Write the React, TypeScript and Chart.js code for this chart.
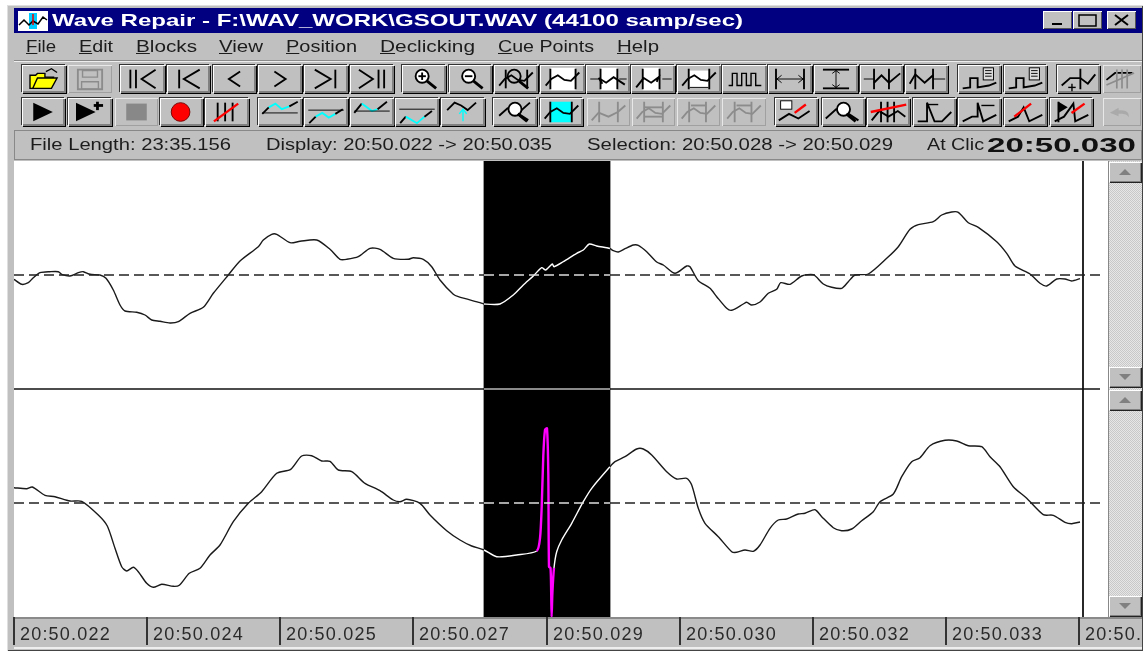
import React, { useEffect, useRef } from "react";
import { Chart, registerables } from "chart.js";

Chart.register(...registerables);

// ---- data: display columns and channel levels (dashed line = 0) ----
const topColumns = [0,7.7,14.3,19,26,36,44.3,47.7,56,64.3,69.3,76,86,92,99.3,106,111,122.7,131,137.7,146,156,164.3,176,189.3,199.3,214.3,226,244.3,249.3,257.7,262.7,276,286,302.7,316,326,332.7,344.3,356,366,379.3,394.3,399.3,409.3,417.7,426,439.3,444.3,466,470,486,499.3,509.3,519.3,527.7,531.7,538.3,540,549.3,562.7,569.3,575.3,582.7,592.7,596,599.3,604.3,611,619.3,624.3,632.7,642.7,649.3,661,672.7,676,684.3,696,702.7,712.7,717.7,729.3,732.7,737.7,746,754.3,762.7,766.7,776,787.7,799.3,809.3,817.7,827.7,834.3,841,854.3,872.7,884.3,896,904.3,919.3,927.7,937.7,944.3,954.3,964.3,982.7,992.7,1001,1016,1026,1032.7,1042.7,1051,1057.7,1066];
const topLevels = [-4.3,-9.3,-7.7,-3,2.3,3.3,3.3,0.7,-1,2.3,3.3,0.7,0,-3.3,-15,-30,-36,-37.3,-40,-45,-46.3,-48,-46.7,-38.3,-32.3,-18.3,0,14,28.3,35,40.7,40.7,32.3,33.7,35,25.7,15.7,15.7,18.3,26.7,25.7,16.7,15.7,17.3,15.7,8.3,-5,-19.3,-21.7,-27.7,-29,-29,-20,-10,-1,7.3,5,11,8.3,13.3,21.7,25,31,29,27.3,26.5,24.3,23,26.3,30,29.7,23.3,13,10,1.7,9,8.3,-5.7,-13.3,-21.7,-33.3,-35.3,-29,-27.3,-30,-27,-18.3,-14.3,-7.7,-9.3,-1,0.3,-9,-12.3,-13.3,-6.7,0,1,16.7,28.3,45.7,50.3,53.3,60,63,62.7,52.3,47.7,33.3,21.7,9,1,-8.3,-11,-4,-4,-6,-3.7];
const bottomColumns = [0,12.7,18.3,31,41,56,67.7,84.3,93.3,101,107.7,112.7,119.3,124.3,132.7,139.3,147.7,159.3,165.3,175.3,186,196,206,219.3,234.3,247.7,262.7,276.7,287.7,297.7,307.7,316,324.3,337.7,351,366,379.3,386,392.7,406,416,432.7,446,457.7,470,482.7,502.7,522.7,526,527.7,529.3,531,533,534.3,535,536.5,537.2,537.6,538.4,540,542.7,547.7,557.7,569.3,577.7,596,601,611,622.7,629.3,637.7,652.7,662.7,672.7,677.7,684.3,691,704.3,717.7,722.7,731,739.3,746,756,764.3,772.7,784.3,791,801,807.7,819.3,827.7,837.7,847.7,859.3,866,879.3,887.7,897.7,906,916,931,942.7,954.3,967.7,976,986,999.3,1012.7,1029.3,1039.3,1051,1057.7,1066];
const bottomLevels = [15.3,14.3,16,7.7,6.3,2,1.7,-12,-23,-45.3,-63.7,-68,-64.3,-68.7,-80.3,-84.3,-81.3,-83.3,-82.3,-70.3,-65.3,-52,-42,-18.7,-0.3,11.3,29.7,33.7,47,47.3,42,41.7,33,31.3,19.7,12.3,3,1.3,3.7,-0.3,-12,-27.7,-37,-43,-47,-53.7,-52,-48,-35.3,-3.7,47.3,73,74.7,29.7,-63.7,-65,-90,-114,-90,-65,-48.7,-37,-20.3,1.3,14.7,36.3,41.3,46.3,54,54,48,31.3,24,24.7,18,-5.3,-20.3,-33.7,-48.7,-49.3,-47,-48.3,-42,-25.3,-17,-16,-11,-10.3,-6.7,-13.7,-24.7,-27.7,-26,-17.7,-8.7,1.3,9,26.3,41.3,45.3,57.3,62.7,62,57.3,56.3,46.3,36.3,16.3,4.7,-11.7,-12.3,-19.3,-20.7,-19];
const zeroColumns = [0, 470, 596, 1086];
const zeroLevels = [0, 0, 0, 0];
const separatorColumns = [0, 470, 596, 1086];
const separatorLevels = [-114, -114, -114, -114];
const cursorColumns = [1069, 1069];
const cursorLevels = [-342, 114];
const selectionStart = 470;
const selectionEnd = 596;
const clickStart = 522.7;
const clickEnd = 540;
const tickColumns = [0, 133, 266, 399, 533, 666, 799, 932, 1065];
const tickLabels = ["20:50.022","20:50.024","20:50.025","20:50.027","20:50.029","20:50.030","20:50.032","20:50.033","20:50."];

const xy = (xs: number[], ys: number[]) => xs.map((x, i) => ({ x, y: ys[i] }));
const INK = "#1a1a1a";

// ---- window chrome ----
const measure = document.createElement("canvas").getContext("2d")!;
function Txt({ x, y, w, text, size = 16, bold = false, color = "#1c1c1c", u = -1 }: any) {
  const font = `${bold ? "bold " : ""}${size}px "Liberation Sans"`;
  measure.font = font;
  const k = w / measure.measureText(text).width;
  return (
    <div style={{ position: "absolute", left: x, top: y - size, font, lineHeight: `${size * 2}px`, height: size * 2, whiteSpace: "pre", color, transform: `scaleX(${k})`, transformOrigin: "left center" }}>
      {u >= 0 ? <>{text.slice(0, u)}<u>{text[u]}</u>{text.slice(u + 1)}</> : text}
    </div>
  );
}

const L = (pts: string, c = "#000", sw = 2) => `<polyline points="${pts}" fill="none" stroke="${c}" stroke-width="${sw}"/>`;
const W1 = "4,22 10,15 17,11 24,16 31,17 40,8";
const W2 = "4,24 12,14 20,19 28,13 40,21";
const vbar = (x: number, c = "#000") => L(`${x},4 ${x},26`, c);
const lens = `<circle cx="20" cy="12" r="7" fill="#fff" stroke="#000" stroke-width="2"/>` + L("25,17 35,25", "#000", 3);
const doc = `<rect x="26" y="3" width="11" height="13" fill="#ddd" stroke="#000"/>` + L("28,6 35,6", "#000", 1) + L("28,9 35,9", "#000", 1) + L("28,12 35,12", "#000", 1);
const slash = (a: string) => L(a, "#f00", 2.5);
const g = "#8c8c8c";

const iconsTop: [number, number, string, string?][] = [
  [22, 44, `<path d="M7 25V11h6l2-2h8v4h9l-5 12z" fill="#ff0" stroke="#000" stroke-width="1.5"/><path d="M10 25l5-11h21l-6 11z" fill="#ff0" stroke="#000" stroke-width="1.5"/>` + L("24,7 30,4 36,8", "#000", 1.5)],
  [68, 44, `<path d="M9 5h26v21H9z" fill="none" stroke="${g}" stroke-width="2"/><path d="M14 6h16v7H14zM13 18h18v8H13z" fill="none" stroke="${g}" stroke-width="1.5"/>`, "off"],
  [120, 45, L("9,5 9,25") + L("15,5 15,25") + L("36,5 21,15 36,25")],
  [167, 43, L("12,5 12,25") + L("34,5 17,15 34,25")],
  [213, 43, L("28,7 16,15 28,23")],
  [258, 44, L("16,7 28,15 16,23")],
  [304, 44, L("10,5 27,15 10,25") + L("32,5 32,25")],
  [350, 44, L("8,5 23,15 8,25") + L("29,5 29,25") + L("35,5 35,25")],
  [402, 44, lens + L("16,12 24,12") + L("20,8 20,16")],
  [449, 43, lens + L("16,12 24,12")],
  [494, 44, L(W1) + L("11,5 11,25") + L("34,5 34,25") + lens.replace('fill="#fff"', 'fill="none"')],
  [540, 45, `<rect x="9" y="3" width="27" height="24" fill="#fff"/>` + L(W1) + vbar(9) + vbar(36), "on"],
  [586, 44, `<rect x="14" y="3" width="18" height="24" fill="#fff"/>` + L(W2.replace("4,24", "16,20")) + vbar(14) + vbar(32) + L("3,15 12,15", "#000", 1) + L("34,15 42,15", "#000", 1)],
  [631, 44, `<rect x="11" y="3" width="18" height="24" fill="#fff"/>` + L(W2.replace("40,21", "26,18")) + vbar(11) + vbar(29) + L("32,15 42,15", "#000", 1)],
  [677, 44, `<rect x="11" y="6" width="22" height="18" fill="#fff"/>` + L(W1) + vbar(11) + vbar(33) + L("12,24 32,24", "#000", 1)],
  [722, 45, L("5,22 9,22 9,9 14,9 14,22 19,22 19,9 24,9 24,22 29,22 29,9 34,9 34,22 40,22", "#000", 1.5)],
  [768, 44, vbar(7) + vbar(37) + L("7,15 37,15", "#000", 1) + L("13,11 8,15 13,19", "#000", 1) + L("31,11 36,15 31,19", "#000", 1)],
  [814, 44, L("8,5 36,5") + L("8,25 36,25") + L("22,5 22,25", "#000", 1) + L("18,9 22,6 26,9", "#000", 1) + L("18,21 22,24 26,21", "#000", 1)],
  [860, 43, L("3,15 14,15", "#000", 1) + vbar(14) + vbar(30) + L("14,19 22,11 30,19 42,9")],
  [905, 43, vbar(10) + vbar(29) + L("4,20 10,10 20,19 29,11") + L("30,15 42,15", "#000", 1)],
  [958, 43, L("4,25 12,24 12,14 20,14 20,24 32,22 40,19") + doc],
  [1004, 43, L("4,25 12,24 12,14 20,14 20,24 32,22 40,19") + doc],
  [1057, 43, L("4,22 13,14 24,14 32,20 40,10") + vbar(24) + L("15,20 15,28", "#000", 1.5) + L("11,24 19,24", "#000", 1.5)],
  [1103, 38, L("4,16 14,8 34,8") + L("4,22 36,8", g) + L("16,4 16,26", g) + L("22,4 22,26", g) + L("28,4 28,26", g), "off"],
];

const thick = (a: string) => L(a, "#0ff", 2);
const iconsBottom: [number, number, string, string?][] = [
  [22, 43, `<path d="M11 5L32 15L11 25z"/>`],
  [68, 44, `<path d="M7 5L28 15L7 25z"/>` + L("30,4 30,13", "#000", 3) + L("26,8 36,8", "#000", 3)],
  [115, 43, `<rect x="11" y="6" width="22" height="18" fill="#888"/>`, "off"],
  [160, 43, `<circle cx="21" cy="15" r="10" fill="#f00" stroke="#700"/>`],
  [205, 44, L("12,5 12,25") + L("20,5 20,25") + L("28,5 28,25") + slash("8,25 34,6")],
  [258, 44, L("3,17 10,10") + thick("10,10 17,6 24,12 32,9") + L("32,9 41,4") + L("3,16 41,16", "#000", 1)],
  [304, 44, L("3,13 41,13", "#000", 1) + L("4,27 11,20") + thick("11,20 18,16 25,21 32,17") + L("32,17 40,12")],
  [350, 44, L("3,16 11,6") + thick("11,6 22,14 28,12") + L("28,12 38,4") + L("3,14 41,14", "#000", 1)],
  [395, 44, L("3,12 41,12", "#000", 1) + L("4,27 10,20") + thick("10,20 22,27 30,20") + L("30,20 38,14")],
  [441, 44, L("5,13 13,5 20,8 27,13 36,5") + L("22,13 22,25", "#0ff", 1.5) + L("18,17 22,12 26,17", "#0ff", 1.5)],
  [493, 44, L("5,19 14,11 28,14 38,5") + lens.replace('cx="20"', 'cx="22"') + L("25,17 36,24", "#000", 3)],
  [540, 43, `<rect x="10" y="4" width="23" height="22" fill="#0ff"/>` + L(W1) + vbar(10) + vbar(33), "on"],
  [587, 43, L("4,24 12,15", g) + vbar(12, g) + vbar(32, g) + L("12,16 22,20 32,15 40,8", g), "off"],
  [632, 43, vbar(12, g) + vbar(32, g) + L(W1, g) + L("12,10 32,10", g) + L("12,20 32,20", g), "off"],
  [677, 43, vbar(12, g) + vbar(30, g) + L(W1, g) + L("14,8 30,8", g), "off"],
  [722, 44, vbar(12, g) + vbar(30, g) + L(W1, g) + L("14,8 30,8", g), "off"],
  [775, 43, `<rect x="5" y="3" width="12" height="9" fill="#fff" stroke="#000"/>` + L("3,24 14,17 24,22 36,14") + slash("20,16 32,7")],
  [822, 43, L("3,22 14,12 26,16 38,24") + lens.replace('cx="20"', 'cx="22"')],
  [867, 43, L("4,24 12,14 22,20 32,14 40,20") + vbar(14) + vbar(21) + vbar(28) + slash("3,15 41,7")],
  [913, 43, L("4,25 14,25 14,5 22,25 30,25 40,15") + L("14,7 26,7", "#000", 1.5)],
  [958, 43, L("4,25 14,20 20,20 20,5 26,25 40,18") + L("24,8 38,8", "#000", 1.5)],
  [1004, 43, L("4,25 14,20 20,10 26,25 40,18") + slash("10,20 28,6")],
  [1050, 43, `<path d="M8 4L18 10L8 16z"/>` + L("8,4 8,26") + L("4,25 14,20 24,6 26,25 40,18") + slash("22,16 36,6")],
  [1103, 38, `<path d="M8 16l10-6v3c8 0 12 1 12 8c-3-4-6-4-12-4v3z" fill="#aaa"/>`, "off"],
];

function Btn({ x, y, w, h, icon, state }: any) {
  const off = state === "off";
  return (
    <div style={{ position: "absolute", left: x, top: y, width: w, height: h, background: "#c0c0c0",
      boxShadow: off ? "inset 1px 1px #e8e8e8, inset -1px -1px #a0a0a0" : "inset 1px 1px #fff, inset -2px -2px #808080, 1px 1px 0 #000, -1px -1px 0 #333" }}>
      <svg viewBox="0 0 44 30" width={w} height={h} style={{ display: "block" }} dangerouslySetInnerHTML={{ __html: icon }} />
    </div>
  );
}

function Arrow({ x, y, up }: any) {
  return (
    <div style={{ position: "absolute", left: x, top: y, width: 32, height: 20, background: "#c0c0c0", boxShadow: "inset 1px 1px #fff, inset -1px -1px #808080, 1px 1px 0 #222" }}>
      <svg viewBox="0 0 32 20" width={32} height={20} style={{ display: "block" }}>
        <path d={up ? "M10 13L16 7L22 13z" : "M10 7L22 7L16 13z"} fill="#808080" />
      </svg>
    </div>
  );
}

function Caption({ x, label }: any) {
  return (
    <div style={{ position: "absolute", left: x, top: 11, width: 29, height: 18, background: "#c0c0c0", boxShadow: "inset 1px 1px #fff, inset -1px -1px #555" }}>
      <svg viewBox="0 0 29 18" width={29} height={18} style={{ display: "block" }} dangerouslySetInnerHTML={{ __html: label }} />
    </div>
  );
}

export default function App() {
  const ref = useRef<HTMLCanvasElement>(null);
  useEffect(() => {
    document.body.style.margin = "0";
    const inside = (c: any) => c.p0.parsed.x >= selectionStart && c.p1.parsed.x <= selectionEnd;
    const click = (c: any) => c.p0.parsed.x >= clickStart && c.p0.parsed.x < clickEnd;
    const band = {
      id: "band",
      beforeDraw(ch: any) { ch.ctx.letterSpacing = "1.2px"; },
      beforeDatasetsDraw(ch: any) {
        const { ctx, chartArea: a, scales } = ch;
        const l = scales.x.getPixelForValue(selectionStart);
        const r = scales.x.getPixelForValue(selectionEnd);
        ctx.save();
        ctx.fillStyle = "#000";
        ctx.fillRect(l, a.top, r - l, a.bottom - a.top);
        ctx.fillStyle = "#9a9a9a";
        ctx.fillRect(l - 1, a.top, 1, a.bottom - a.top);
        ctx.fillRect(r, a.top, 1, a.bottom - a.top);
        ctx.restore();
      },
    };
    const inkSeg = { borderColor: (c: any) => (inside(c) ? "#fff" : INK) };
    const chart = new Chart(ref.current!, {
      type: "line",
      plugins: [band],
      data: {
        datasets: [
          { label: "Zero L", data: xy(zeroColumns, zeroLevels), yAxisID: "yL", borderWidth: 1.5, borderDash: [10, 5], segment: { borderColor: (c: any) => (inside(c) ? "#ddd" : "#222") } },
          { label: "Zero R", data: xy(zeroColumns, zeroLevels), yAxisID: "yR", borderWidth: 1.5, borderDash: [10, 5], segment: { borderColor: (c: any) => (inside(c) ? "#ddd" : "#222") } },
          { label: "Divider", data: xy(separatorColumns, separatorLevels), yAxisID: "yL", borderWidth: 1.6, segment: { borderColor: (c: any) => (inside(c) ? "#b8b8b8" : "#111") } },
          { label: "Left channel", data: xy(topColumns, topLevels), yAxisID: "yL", borderWidth: 1.4, tension: 0.25, segment: inkSeg },
          { label: "Right channel", data: xy(bottomColumns, bottomLevels), yAxisID: "yR", borderWidth: 1.4, tension: 0.25, segment: {
              borderColor: (c: any) => (click(c) ? "#ff00ff" : inside(c) ? "#fff" : INK),
              borderWidth: (c: any) => (click(c) ? 2.4 : 1.4),
            } },
          { label: "Click position", data: xy(cursorColumns, cursorLevels), yAxisID: "yL", borderColor: "#111", borderWidth: 1.8 },
        ],
      },
      options: {
        animation: false,
        responsive: false,
        devicePixelRatio: 1,
        parsing: false,
        normalized: false,
        elements: { point: { radius: 0 }, line: { borderCapStyle: "butt", borderJoinStyle: "round" } },
        layout: { padding: { left: 14, right: 46, top: 161, bottom: 2 }, autoPadding: false },
        plugins: { legend: { display: false }, tooltip: { enabled: false }, title: { display: false } },
        scales: {
          x: {
            type: "linear", min: 0, max: 1086, position: "bottom",
            border: { display: false },
            grid: { drawOnChartArea: false, drawTicks: true, tickLength: 28, color: "#333", lineWidth: 2 },
            afterBuildTicks: (s: any) => { s.ticks = tickColumns.map((value) => ({ value })); },
            afterFit: (s: any) => { s.height = 33; s.paddingLeft = 0; s.paddingRight = 0; },
            ticks: {
              autoSkip: false, maxRotation: 0, minRotation: 0, align: "start", padding: -21, labelOffset: 6,
              color: "#2a2a2a", font: { family: "Liberation Sans", size: 18 },
              callback: (_v: any, i: number) => tickLabels[i],
            },
          },
          yL: { type: "linear", display: false, min: -342, max: 114 },
          yR: { type: "linear", display: false, min: -114, max: 342 },
        },
      } as any,
    } as any);
    return () => chart.destroy();
  }, []);

  return (
    <div style={{ position: "fixed", left: 0, top: 0, width: 1146, height: 652, background: "#fff", overflow: "hidden" }}>
      <div style={{ position: "absolute", left: 0, top: 0, width: 1146, height: 652, filter: "blur(0.45px)" }}>
        <div style={{ position: "absolute", left: 7, top: 5, width: 1136, height: 646, background: "#c0c0c0", boxShadow: "inset 1px 1px #dfdfdf, inset -1px -1px #444" }} />
        <div style={{ position: "absolute", left: 14, top: 8, width: 1128, height: 25, background: "#000080" }} />
        <div style={{ position: "absolute", left: 18, top: 11, width: 30, height: 20, background: "#fff" }}>
          <svg viewBox="0 0 30 20" width={30} height={20} style={{ display: "block" }}>
            <rect x="11" y="2" width="8" height="16" fill="#0cf" />
            <polyline points="1,14 6,9 11,14 15,10 20,13 25,6 29,9" fill="none" stroke="#000" strokeWidth="1.5" />
            <line x1="15" y1="3" x2="15" y2="14" stroke="#e00" strokeWidth="1.5" />
          </svg>
        </div>
        <Txt x={52} y={21} w={691} size={17} bold color="#fff" text={"Wave Repair - F:\\WAV_WORK\\GSOUT.WAV (44100 samp/sec)"} />
        <Caption x={1043} label={`<rect x="9" y="12" width="10" height="2" fill="#000"/>`} />
        <Caption x={1073} label={`<rect x="6" y="4" width="17" height="11" fill="none" stroke="#000" stroke-width="1.5"/>`} />
        <Caption x={1107} label={`<path d="M8 4L21 14M21 4L8 14" stroke="#000" stroke-width="2"/>`} />

        <Txt x={26} y={47} w={30} text="File" u={0} />
        <Txt x={79} y={47} w={34} text="Edit" u={0} />
        <Txt x={136} y={47} w={61} text="Blocks" u={0} />
        <Txt x={219} y={47} w={44} text="View" u={0} />
        <Txt x={286} y={47} w={71} text="Position" u={0} />
        <Txt x={380} y={47} w={95} text="Declicking" u={0} />
        <Txt x={498} y={47} w={96} text="Cue Points" u={0} />
        <Txt x={617} y={47} w={42} text="Help" u={0} />

        <div style={{ position: "absolute", left: 14, top: 60, width: 1128, height: 1, background: "#8a8a8a" }} />
        <div style={{ position: "absolute", left: 14, top: 61, width: 1128, height: 1, background: "#eee" }} />
        {iconsTop.map(([x, w, icon, state], i) => <Btn key={i} x={x} y={65} w={w} h={28} icon={icon} state={state} />)}
        {iconsBottom.map(([x, w, icon, state], i) => <Btn key={i} x={x} y={98} w={w} h={28} icon={icon} state={state} />)}

        <div style={{ position: "absolute", left: 14, top: 130, width: 1128, height: 30, background: "#c0c0c0", boxShadow: "inset 1px 1px #888, inset -1px -1px #888" }} />
        <Txt x={30} y={145} w={201} text="File Length: 23:35.156" />
        <Txt x={266} y={145} w={286} text="Display: 20:50.022 -> 20:50.035" />
        <Txt x={587} y={145} w={306} text="Selection: 20:50.028 -> 20:50.029" />
        <Txt x={927} y={145} w={57} text="At Clic" />
        <Txt x={987} y={145} w={149} size={21} bold color="#111" text="20:50.030" />

        <div style={{ position: "absolute", left: 14, top: 161, width: 1094, height: 456, background: "#fff" }} />
        <div style={{ position: "absolute", left: 1108, top: 161, width: 34, height: 456, background: "repeating-conic-gradient(#c8c8c8 0% 25%, #e6e6e6 0% 50%) 0 0 / 2px 2px", boxShadow: "inset 1px 0 #888" }} />
        <Arrow x={1109} y={162} up />
        <Arrow x={1109} y={367} />
        <Arrow x={1109} y={390} up />
        <Arrow x={1109} y={596} />
        <div style={{ position: "absolute", left: 14, top: 617, width: 1128, height: 2, background: "#8a8a8a" }} />
        <div style={{ position: "absolute", left: 14, top: 647, width: 1128, height: 2, background: "#eee" }} />
      </div>
      <canvas ref={ref} width={1146} height={652} style={{ position: "absolute", left: 0, top: 0, width: 1146, height: 652 }} />
    </div>
  );
}
